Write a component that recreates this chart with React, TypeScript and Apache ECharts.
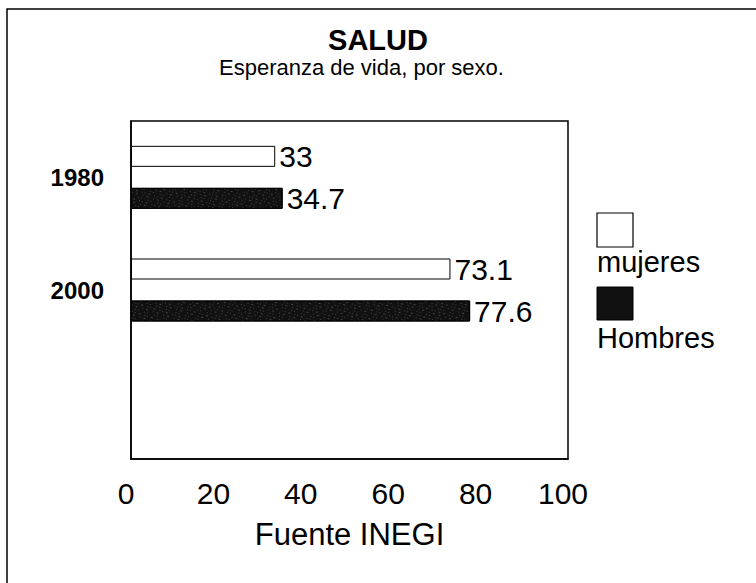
import React, { useEffect, useRef } from "react";
import * as echarts from "echarts";

const categories = ["1980", "2000", ""];
const mujeres = [33, 73.1];
const hombres = [34.7, 77.6];
const seriesNames = ["mujeres", "Hombres"];
const titleText = "SALUD";
const subtitleText = "Esperanza de vida, por sexo.";
const axisName = "Fuente INEGI";
const xMin = 0;
const xMax = 100;
const xStep = 20;

const FONT = "'Liberation Sans', Arial, sans-serif";

export default function App() {
  const ref = useRef<HTMLDivElement>(null);
  useEffect(() => {
    if (!ref.current) return;
    const chart = echarts.init(ref.current, undefined, { renderer: "svg" });
    const dark = "#111111";
    const decal = {
      symbol: "rect",
      symbolSize: 0.7,
      color: "rgba(255,255,255,0.6)",
      dashArrayX: [
        [1, 3, 2, 4, 1, 2],
        [2, 5, 1, 3],
        [1, 2, 1, 6],
      ],
      dashArrayY: [1, 2],
      rotation: 0.3,
    };
    chart.setOption({
      animation: false,
      backgroundColor: "#ffffff",
      textStyle: { fontFamily: FONT, color: "#000" },
      title: [
        {
          text: titleText,
          left: "center",
          top: 20,
          textStyle: { fontFamily: FONT, fontSize: 29, fontWeight: "bold", color: "#000" },
        },
        {
          text: subtitleText,
          left: 214,
          top: 51,
          textStyle: { fontFamily: FONT, fontSize: 22, fontWeight: "normal", color: "#000" },
        },
      ],
      grid: {
        left: 131,
        top: 121,
        width: 437,
        height: 338,
        show: true,
        borderColor: "#000",
        borderWidth: 1.5,
        containLabel: false,
      },
      xAxis: {
        type: "value",
        min: xMin,
        max: xMax,
        interval: xStep,
        splitLine: { show: false },
        axisTick: { show: false },
        axisLine: { show: true, lineStyle: { color: "#000", width: 1.5 } },
        axisLabel: {
          fontFamily: FONT,
          fontSize: 30,
          color: "#000",
          margin: 19,
          padding: [0, 10, 0, 0],
        },
        name: axisName,
        nameLocation: "middle",
        nameGap: 60,
        nameTextStyle: { fontFamily: FONT, fontSize: 31, color: "#000" },
      },
      yAxis: {
        type: "category",
        data: categories,
        inverse: true,
        axisTick: { show: false },
        axisLine: { show: true, lineStyle: { color: "#000", width: 1.5 } },
        axisLabel: {
          fontFamily: FONT,
          fontSize: 24,
          fontWeight: "bold",
          color: "#000",
          margin: 27,
        },
      },
      series: [
        {
          name: seriesNames[0],
          type: "bar",
          data: mujeres,
          barWidth: 21,
          barGap: "100%",
          itemStyle: { color: "#ffffff", borderColor: "#000", borderWidth: 1 },
          label: {
            show: true,
            position: "right",
            distance: 4,
            fontFamily: FONT,
            fontSize: 30,
            color: "#000",
          },
        },
        {
          name: seriesNames[1],
          type: "bar",
          data: hombres,
          barWidth: 21,
          itemStyle: { color: dark, borderColor: "#000", borderWidth: 1, decal },
          label: {
            show: true,
            position: "right",
            distance: 4,
            fontFamily: FONT,
            fontSize: 30,
            color: "#000",
          },
        },
      ],
      graphic: [
        {
          type: "rect",
          silent: true,
          shape: { x: 7, y: 9, width: 900, height: 800 },
          style: { fill: "none", stroke: "#000", lineWidth: 1.5 },
        },
        {
          type: "rect",
          shape: { x: 597, y: 213, width: 36, height: 34 },
          style: { fill: "#fff", stroke: "#000", lineWidth: 1.2 },
        },
        {
          type: "text",
          x: 597,
          y: 247,
          style: {
            text: seriesNames[0],
            fontFamily: FONT,
            fontSize: 29,
            fill: "#000",
            verticalAlign: "top",
          },
        },
        {
          type: "rect",
          shape: { x: 597, y: 287, width: 36, height: 33 },
          style: { fill: dark, stroke: "#000", lineWidth: 1 },
        },
        {
          type: "text",
          x: 597,
          y: 323,
          style: {
            text: seriesNames[1],
            fontFamily: FONT,
            fontSize: 29,
            fill: "#000",
            verticalAlign: "top",
          },
        },
      ],
    });
    return () => chart.dispose();
  }, []);
  return (
    <div
      ref={ref}
      style={{ position: "fixed", left: 0, top: 0, width: 756, height: 583 }}
    />
  );
}
